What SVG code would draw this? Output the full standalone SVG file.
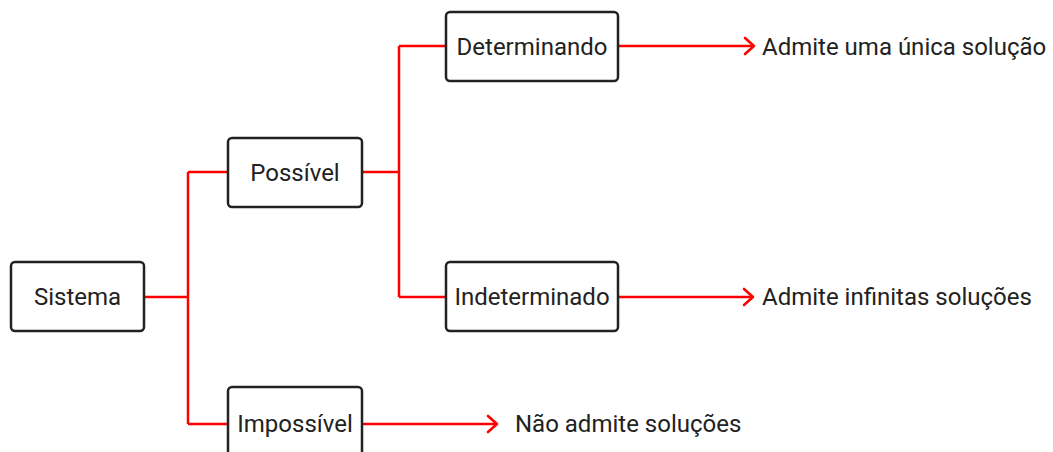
<svg xmlns="http://www.w3.org/2000/svg" width="1053" height="452" viewBox="0 0 1053 452">
<style>
.box{fill:#fff;stroke:#222;stroke-width:2.5}
.lbl{font-family:Roboto,"Liberation Sans",sans-serif;font-size:24px;fill:#222}
.c{text-anchor:middle;dominant-baseline:central}
.ln{fill:none;stroke:#ff0000;stroke-width:2.5}
.ah{fill:none;stroke:#ff0000;stroke-width:2.6;stroke-linecap:round;stroke-linejoin:round}
</style>
<rect width="1053" height="452" fill="#fff"/>
<g id="connectors">
<path class="ln" d="M144 297 H188 M188 172 V424 M188 172 H228 M188 424 H228"/>
<path class="ln" d="M362 172 H399 M399 46 V297 M399 46 H446 M399 297 H446"/>
<path class="ln" d="M618 46 H754"/>
<path class="ah" d="M745 38 L754 46 L745 54"/>
<path class="ln" d="M618 297 H753"/>
<path class="ah" d="M744 289 L753 297 L744 305"/>
<path class="ln" d="M362 424 H497"/>
<path class="ah" d="M488 416 L497 424 L488 432"/>
</g>
<g id="sistema"><rect class="box" x="11" y="262" width="133" height="69" rx="4"/><text class="lbl c" x="77.5" y="296.5">Sistema</text></g>
<g id="possivel"><rect class="box" x="228" y="138" width="134" height="69" rx="4"/><text class="lbl c" x="295" y="172.5">Possível</text></g>
<g id="impossivel"><rect class="box" x="228" y="387" width="134" height="72" rx="4"/><text class="lbl c" x="295" y="423.5">Impossível</text></g>
<g id="determinando"><rect class="box" x="446" y="12" width="172" height="69" rx="4"/><text class="lbl c" x="532" y="46.5">Determinando</text></g>
<g id="indeterminado"><rect class="box" x="446" y="262" width="172" height="69" rx="4"/><text class="lbl c" x="532" y="296.5">Indeterminado</text></g>
<g id="res1"><text class="lbl" x="762" y="46.5" dominant-baseline="central">Admite uma única solução</text></g>
<g id="res2"><text class="lbl" x="762" y="297" dominant-baseline="central">Admite infinitas soluções</text></g>
<g id="res3"><text class="lbl" x="515" y="424" dominant-baseline="central">Não admite soluções</text></g>
</svg>
